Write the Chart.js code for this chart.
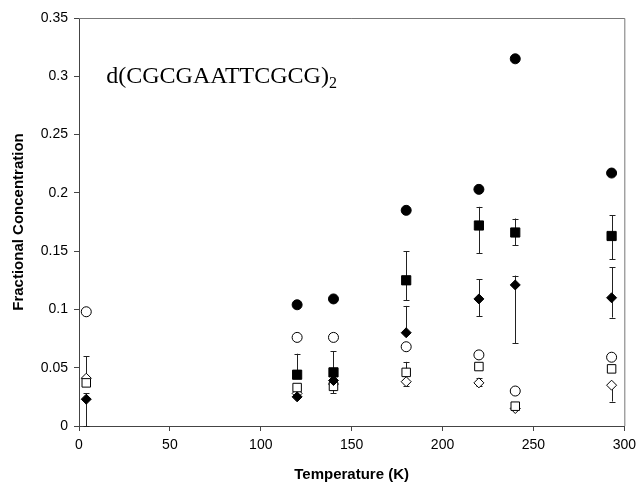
<!DOCTYPE html>
<html>
<head>
<meta charset="utf-8">
<script src="https://cdn.jsdelivr.net/npm/chart.js@4"></script>
<style>
  html, body { margin: 0; padding: 0; background: #fff; }
  #wrap { width: 642px; height: 487px; }
</style>
</head>
<body>
<div id="wrap"><canvas id="grafico" width="642" height="487"></canvas></div>
<script>
// temperaturas (K)
const temps = [4, 120, 140, 180, 220, 240, 293];

// valores por serie (null = sin punto)
const circuloLleno   = [null, 0.104, 0.109, 0.185, 0.203, 0.315, 0.217];
const cuadradoLleno  = [null, 0.044, 0.046, 0.125, 0.172, 0.166, 0.163];
const romboLleno     = [0.023, 0.025, 0.039, 0.080, 0.109, 0.121, 0.110];
const circuloVacio   = [0.098, 0.076, 0.076, 0.068, 0.061, 0.030, 0.059];
const cuadradoVacio  = [0.037, 0.033, 0.034, 0.046, 0.051, 0.017, 0.049];
const romboVacio     = [0.041, 0.028, 0.036, 0.038, 0.037, 0.015, 0.035];

// barras de error (limites inferior / superior)
const cuadradoLlenoMin = [null, 0.044, 0.046, 0.108, 0.148, 0.155, 0.143];
const cuadradoLlenoMax = [null, 0.062, 0.064, 0.150, 0.188, 0.178, 0.181];
const romboLlenoMin    = [0.000, null, null, 0.080, 0.094, 0.071, 0.093];
const romboLlenoMax    = [0.028, null, null, 0.103, 0.126, 0.129, 0.136];
const cuadradoVacioMin = [null, null, 0.028, 0.046, null, null, null];
const cuadradoVacioMax = [null, null, 0.034, 0.055, null, null, null];
const romboVacioMin    = [0.035, null, null, 0.034, 0.034, null, 0.021];
const romboVacioMax    = [0.060, null, null, 0.038, 0.041, null, 0.035];

const xTicks = [0, 50, 100, 150, 200, 250, 300];
const yTicks = [0, 0.05, 0.1, 0.15, 0.2, 0.25, 0.3, 0.35];

function puntos(valores) {
    return temps.map((t, i) => ({ x: t, y: valores[i] })).filter(p => p.y !== null);
}

function serie(label, valores, estilo, relleno, radio, errMin, errMax) {
    return {
        label: label,
        data: puntos(valores),
        pointStyle: estilo,
        pointRadius: radio,
        pointHoverRadius: radio,
        backgroundColor: relleno,
        borderColor: '#000',
        pointBorderWidth: 1,
        showLine: false,
        errMin: errMin,
        errMax: errMax
    };
}

// dibuja barras de error con las escalas del grafico
const barrasError = {
    id: 'barrasError',
    beforeDatasetsDraw(chart) {
        const ctx = chart.ctx;
        const xs = chart.scales.x, ys = chart.scales.y;
        const area = chart.chartArea;
        ctx.save();
        ctx.beginPath();
        ctx.rect(area.left, area.top, area.right - area.left, area.bottom - area.top + 1);
        ctx.clip();
        ctx.strokeStyle = '#222';
        ctx.lineWidth = 1;
        chart.data.datasets.forEach(ds => {
            if (!ds.errMin) return;
            temps.forEach((t, i) => {
                if (ds.errMin[i] === null || ds.errMax[i] === null) return;
                const x = Math.round(xs.getPixelForValue(t)) + 0.5;
                const y1 = ys.getPixelForValue(ds.errMin[i]);
                const y2 = ys.getPixelForValue(ds.errMax[i]);
                ctx.beginPath();
                ctx.moveTo(x, y1); ctx.lineTo(x, y2);
                ctx.moveTo(x - 3, Math.round(y1) + 0.5); ctx.lineTo(x + 3, Math.round(y1) + 0.5);
                ctx.moveTo(x - 3, Math.round(y2) + 0.5); ctx.lineTo(x + 3, Math.round(y2) + 0.5);
                ctx.stroke();
            });
        });
        ctx.restore();
    },
    afterDraw(chart) {
        const ctx = chart.ctx;
        const a = chart.chartArea;
        ctx.save();
        // marco superior y derecho
        ctx.strokeStyle = '#777';
        ctx.lineWidth = 1;
        ctx.beginPath();
        ctx.moveTo(a.left, a.top + 0.5); ctx.lineTo(a.right + 0.5, a.top + 0.5);
        ctx.lineTo(a.right + 0.5, a.bottom);
        ctx.stroke();
        // rotulo de la molecula
        const x = chart.scales.x.getPixelForValue(15);
        const y = chart.scales.y.getPixelForValue(0.30);
        ctx.fillStyle = '#000';
        ctx.textBaseline = 'middle';
        ctx.font = '24px "Liberation Serif", "Times New Roman", serif';
        const txt = 'd(CGCGAATTCGCG)';
        ctx.fillText(txt, x, y);
        const w = ctx.measureText(txt).width;
        ctx.font = '16px "Liberation Serif", "Times New Roman", serif';
        ctx.fillText('2', x + w, y + 8);
        ctx.restore();
    }
};

window.onload = function() {
    const ctx = document.getElementById('grafico').getContext('2d');
    new Chart(ctx, {
        type: 'scatter',
        data: {
            datasets: [
                serie('circulo lleno', circuloLleno, 'circle', '#000', 5, null, null),
                serie('cuadrado lleno', cuadradoLleno, 'rect', '#000', 6.5, cuadradoLlenoMin, cuadradoLlenoMax),
                serie('rombo lleno', romboLleno, 'rectRot', '#000', 5, romboLlenoMin, romboLlenoMax),
                serie('circulo vacio', circuloVacio, 'circle', '#fff', 5, null, null),
                serie('cuadrado vacio', cuadradoVacio, 'rect', '#fff', 6, cuadradoVacioMin, cuadradoVacioMax),
                serie('rombo vacio', romboVacio, 'rectRot', '#fff', 5, romboVacioMin, romboVacioMax)
            ]
        },
        options: {
            responsive: false,
            animation: false,
            layout: { padding: { top: 18, right: 14, left: 0, bottom: 0 } },
            plugins: {
                legend: { display: false },
                tooltip: { enabled: false }
            },
            scales: {
                x: {
                    type: 'linear',
                    min: 0, max: 300,
                    afterBuildTicks: s => { s.ticks = xTicks.map(v => ({ value: v })); },
                    afterFit: s => { s.height = 61; },
                    border: { color: '#444', width: 1 },
                    grid: { drawOnChartArea: false, drawTicks: true, tickLength: 5, color: '#444' },
                    ticks: {
                        color: '#000',
                        padding: 6,
                        font: { family: '"Liberation Sans", Arial, sans-serif', size: 14 }
                    },
                    title: {
                        display: true,
                        text: 'Temperature (K)',
                        color: '#000',
                        padding: { top: 0, bottom: 3 },
                        font: { family: '"Liberation Sans", Arial, sans-serif', size: 15, weight: 'bold' }
                    }
                },
                y: {
                    type: 'linear',
                    min: 0, max: 0.35,
                    afterBuildTicks: s => { s.ticks = yTicks.map(v => ({ value: v })); },
                    afterFit: s => { s.width = 79; },
                    border: { color: '#444', width: 1 },
                    grid: { drawOnChartArea: false, drawTicks: true, tickLength: 5, color: '#444' },
                    ticks: {
                        color: '#000',
                        padding: 6,
                        callback: v => String(+v.toFixed(2)),
                        font: { family: '"Liberation Sans", Arial, sans-serif', size: 14 }
                    },
                    title: {
                        display: true,
                        text: 'Fractional Concentration',
                        color: '#000',
                        padding: { top: 10, bottom: 0 },
                        font: { family: '"Liberation Sans", Arial, sans-serif', size: 15, weight: 'bold' }
                    }
                }
            }
        },
        plugins: [barrasError]
    });
};
</script>
</body>
</html>
